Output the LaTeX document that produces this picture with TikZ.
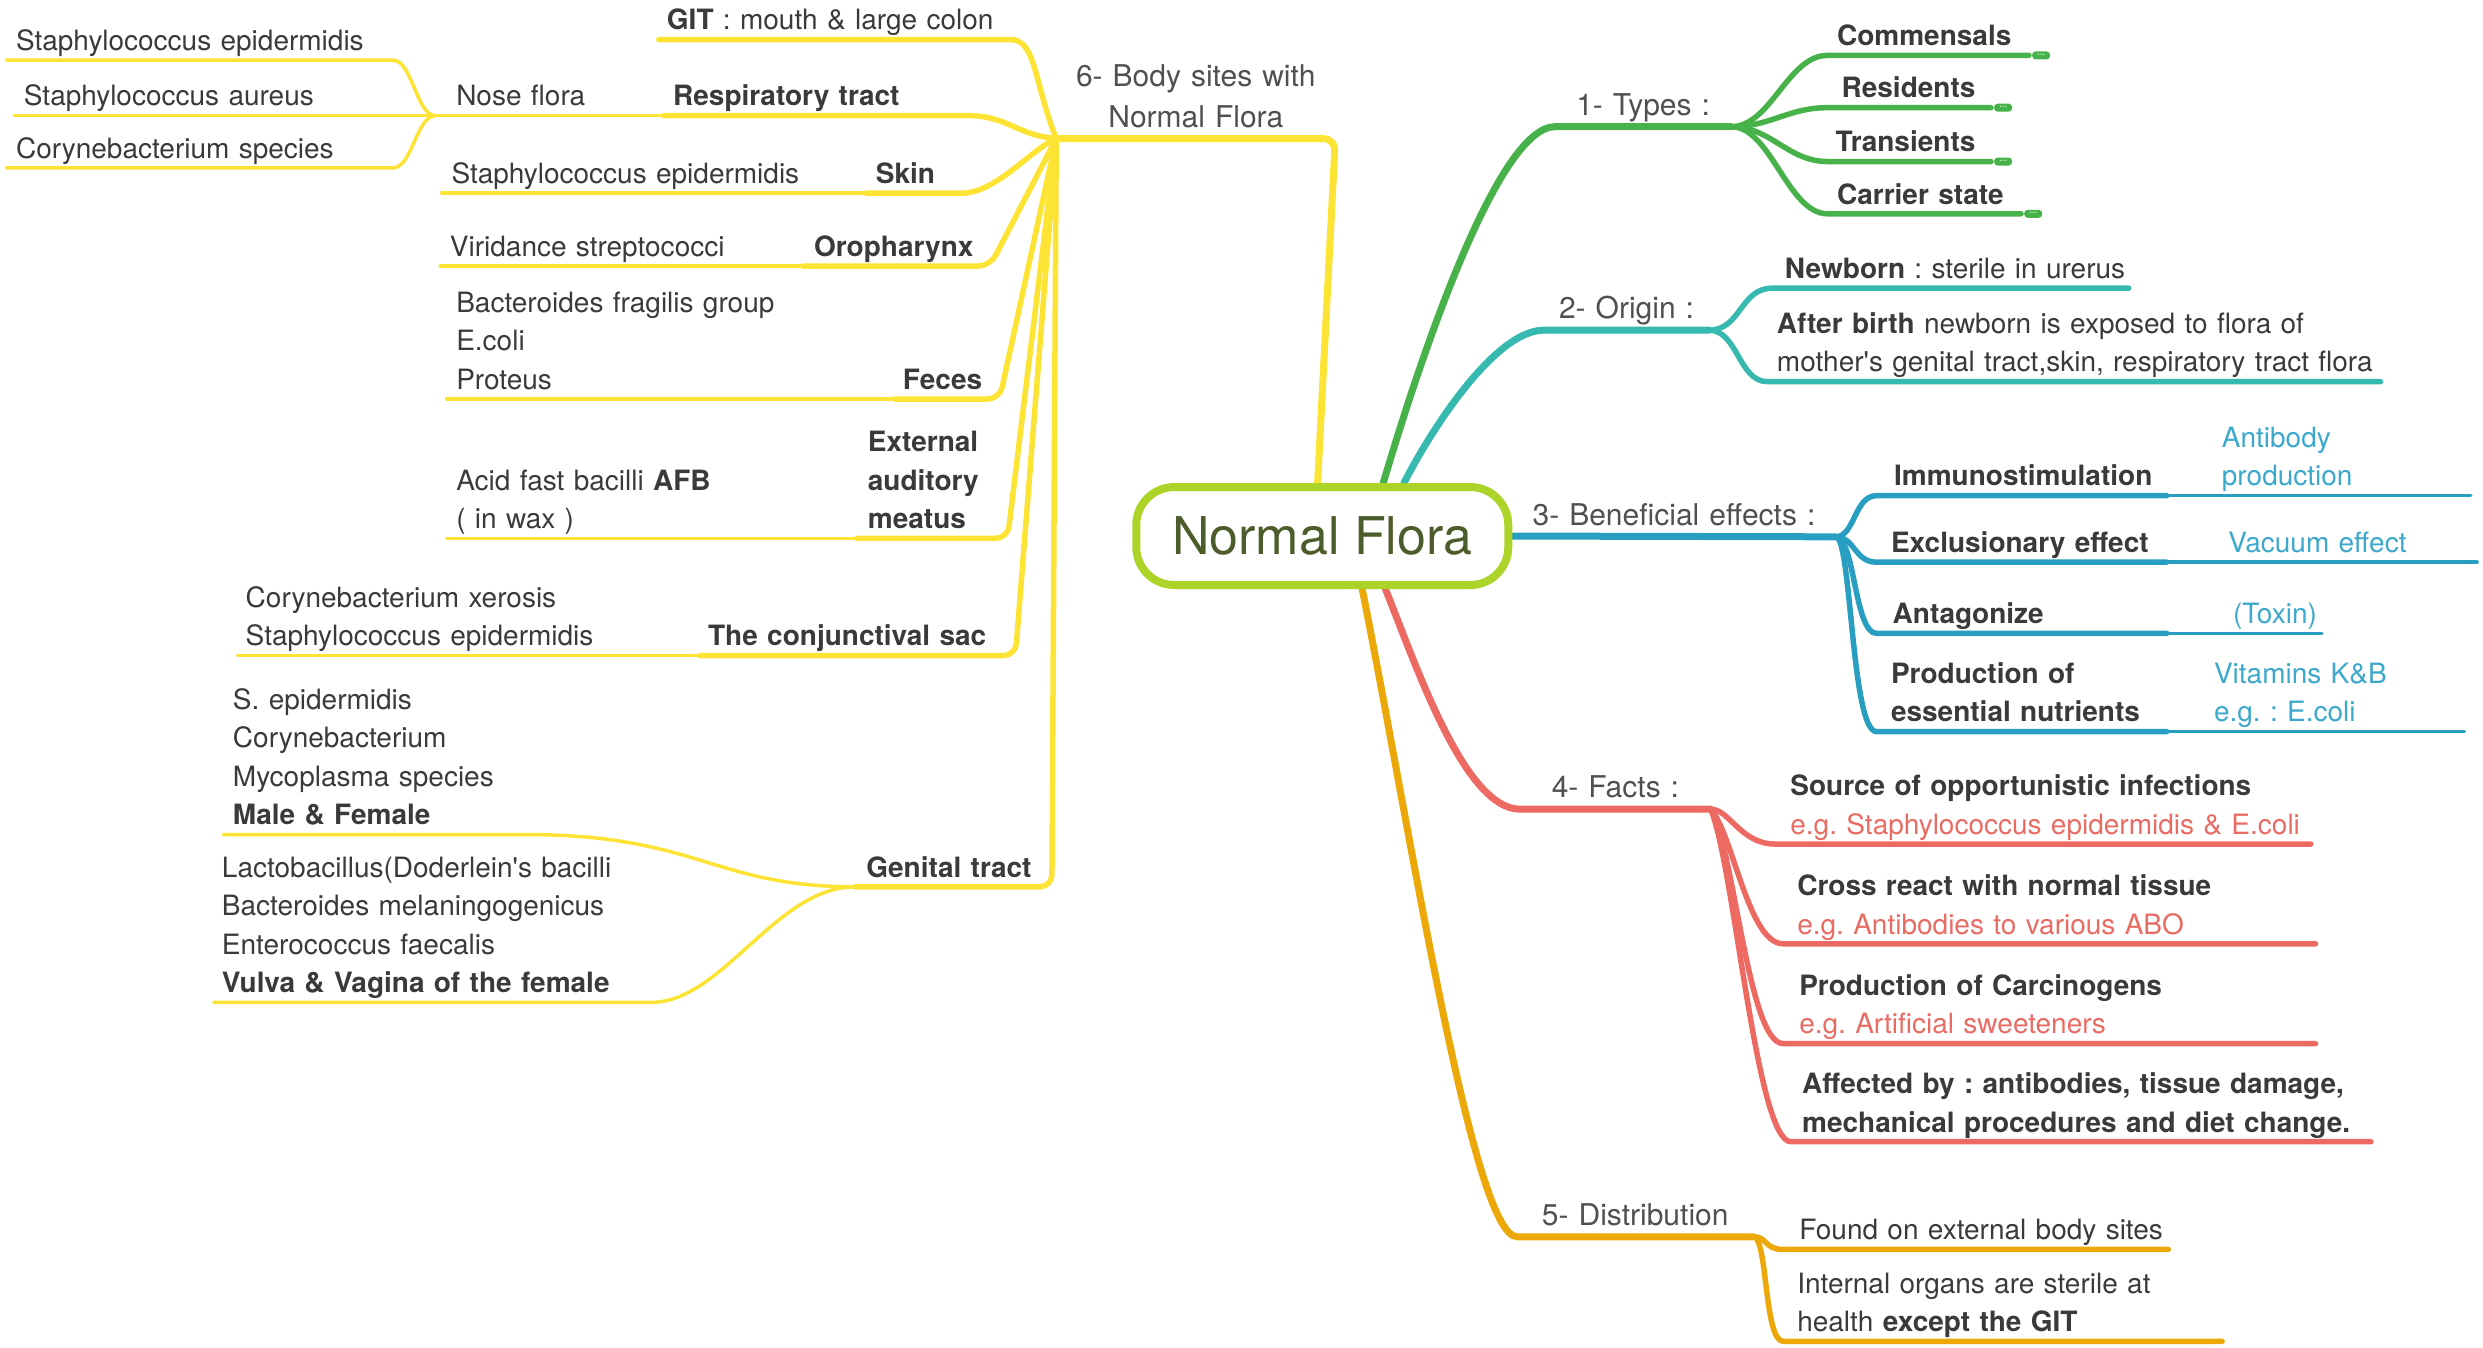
\documentclass[tikz,border=0pt]{standalone}
\usepackage{fontspec}
\setmainfont{TeX Gyre Heros}
\usetikzlibrary{positioning,backgrounds}
\definecolor{ylw}{RGB}{253,227,52}
\definecolor{grn}{RGB}{72,178,74}
\definecolor{tea}{RGB}{54,186,176}
\definecolor{blu}{RGB}{40,158,192}
\definecolor{sal}{RGB}{236,106,98}
\definecolor{org}{RGB}{236,168,8}
\definecolor{rootc}{RGB}{172,212,40}
\definecolor{roottx}{RGB}{76,92,42}
\definecolor{txt}{RGB}{58,58,58}
\definecolor{lbl}{RGB}{80,80,80}
\definecolor{blutx}{RGB}{60,168,204}
\definecolor{saltx}{RGB}{233,108,100}
\begin{document}
\begin{tikzpicture}[x=1.5835pt, y=-1.5835pt]
\tikzstyle{root} = [draw=rootc, line width=8pt, fill=white, rounded corners=38pt, minimum width=372pt, minimum height=98pt, text=roottx, font=\fontsize{52}{60}\selectfont];
\tikzstyle{branch} = [font=\fontsize{30}{41}\selectfont, text=lbl, inner sep=0pt, anchor=south west, execute at begin node={\centering\frenchspacing}, execute at end node={\rule[-11pt]{0pt}{11pt}}];
\tikzstyle{leaf} = [font=\fontsize{28}{38.5}\selectfont, text=txt, inner sep=0pt, anchor=south west, execute at begin node={\raggedright\frenchspacing\hyphenpenalty=10000 \leftskip=8pt}, execute at end node={\rule[-9.5pt]{0pt}{9.5pt}}];
\tikzstyle{morebox} = [fill=grn, rounded corners=3.5pt, minimum width=18pt, minimum height=8pt, inner sep=0pt, text=white, font=\fontsize{5}{5}\selectfont];
\tikzstyle{main} = [line width=7pt, line cap=round];
\tikzstyle{sub} = [line width=5.5pt, line cap=round];
\tikzstyle{subsub} = [line width=3.5pt, line cap=round];
\tikzset{lw/.style={text width=\fpeval{1.5835*#1}pt}, lpad/.style={execute at begin node={\leftskip=#1pt}}}
\useasboundingbox (0,0) rectangle (1568,851);

\node [root] (root) at (835,338.5) {Normal Flora};

\node [branch, lw=176] (b6) at (667,87.5) {6- Body sites with\\Normal Flora};
\node [branch, lw=111] (b1) at (982,80) {1- Types :};
\node [branch, lw=104] (b2) at (975,208.5) {2- Origin :};
\node [branch, lw=204] (b3) at (955,339) {3- Beneficial effects :};
\node [branch, lw=120] (b4) at (960,511) {4- Facts :};
\node [branch, lw=149] (b5) at (958,781) {5- Distribution};

\node [leaf, lw=222, lpad=8] (git) at (416,25) {\textbf{GIT} : mouth \& large colon};
\node [leaf, lw=192, lpad=9.5] (rsp) at (419,73) {\textbf{Respiratory tract}};
\node [leaf, lw=144, lpad=20.6] (nf) at (275,73) {Nose flora};
\node [leaf, lw=244, lpad=9.5] (n1) at (4,38) {Staphylococcus epidermidis};
\node [leaf, lw=266, lpad=9.5] (n2) at (9,73) {Staphylococcus aureus};
\node [leaf, lw=244, lpad=9.5] (n3) at (4,106) {Corynebacterium species};
\node [leaf, lw=60, lpad=9.5] (skn) at (547,122) {\textbf{Skin}};
\node [leaf, lw=268, lpad=9.5] (sk1) at (279,122) {Staphylococcus epidermidis};
\node [leaf, lw=118, lpad=11] (oro) at (507,168) {\textbf{Oropharynx}};
\node [leaf, lw=229, lpad=9.5] (or1) at (278,168) {Viridance streptococci};
\node [leaf, lw=66, lpad=8] (fec) at (565,252) {\textbf{Feces}};
\node [leaf, lw=283, lpad=9.5] (fe1) at (282,252) {Bacteroides fragilis group\\E.coli\\Proteus};
\node [leaf, lw=95, lpad=11] (eam) at (541,340) {\textbf{External}\\\textbf{auditory}\\\textbf{meatus}};
\node [leaf, lw=259, lpad=9.5] (ea1) at (282,340) {Acid fast bacilli \textbf{AFB}\\( in wax )};
\node [leaf, lw=199, lpad=8] (cnj) at (442,414) {\textbf{The conjunctival sac}};
\node [leaf, lw=292, lpad=8] (cj1) at (150,414) {Corynebacterium xerosis\\Staphylococcus epidermidis};
\node [leaf, lw=124, lpad=11] (gen) at (540,560) {\textbf{Genital tract}};
\node [leaf, lw=190, lpad=9.5] (mf) at (141,527) {S. epidermidis\\Corynebacterium\\Mycoplasma species\\\textbf{Male \& Female}};
\node [leaf, lw=276, lpad=8] (vv) at (135,633) {Lactobacillus(Doderlein\textquotesingle s bacilli\\Bacteroides melaningogenicus\\Enterococcus faecalis\\\textbf{Vulva \& Vagina of the female}};

\node [leaf, lw=127, lpad=9.5] (com) at (1154,35) {\textbf{Commensals}};
\node [leaf, lw=103, lpad=14] (res) at (1154,68) {\textbf{Residents}};
\node [leaf, lw=103, lpad=8] (tra) at (1154,102) {\textbf{Transients}};
\node [leaf, lw=122, lpad=9.5] (car) at (1154,135) {\textbf{Carrier state}};
\node [morebox, right=3pt of com.south east] (m1) {\textbullet\,\textbullet\,\textbullet};
\node [morebox, right=3pt of res.south east] (m2) {\textbullet\,\textbullet\,\textbullet};
\node [morebox, right=3pt of tra.south east] (m3) {\textbullet\,\textbullet\,\textbullet};
\node [morebox, right=3pt of car.south east] (m4) {\textbullet\,\textbullet\,\textbullet};

\node [leaf, lw=225, lpad=12.7] (nb) at (1119,182) {\textbf{Newborn} : sterile in urerus};
\node [leaf, lw=387, lpad=9.5] (ab) at (1116,241) {\textbf{After birth} newborn is exposed to flora of\\mother\textquotesingle s genital tract,skin, respiratory tract flora};

\node [leaf, lw=183, lpad=17.4] (imm) at (1185,313) {\textbf{Immunostimulation}};
\node [leaf, lw=192, lpad=55.4, text=blutx] (imm2) at (1368,313) {Antibody\\production};
\node [leaf, lw=183, lpad=14.3] (exc) at (1185,355) {\textbf{Exclusionary effect}};
\node [leaf, lw=196, lpad=61.8, text=blutx] (exc2) at (1368,355) {Vacuum effect};
\node [leaf, lw=183, lpad=16] (ant) at (1185,400) {\textbf{Antagonize}};
\node [leaf, lw=98, lpad=66.5, text=blutx] (ant2) at (1368,400) {(Toxin)};
\node [leaf, lw=183, lpad=14.3] (pro) at (1185,462) {\textbf{Production of}\\\textbf{essential nutrients}};
\node [leaf, lw=188, lpad=47.5, text=blutx] (pro2) at (1368,462) {Vitamins K\&B\\e.g. : E.coli};

\node [leaf, lw=338, lpad=15] (fa1) at (1121,533) {\textbf{Source of opportunistic infections}\\\textcolor{saltx}{e.g. Staphylococcus epidermidis \& E.coli}};
\node [leaf, lw=336, lpad=14] (fa2) at (1126,596) {\textbf{Cross react with normal tissue}\\\textcolor{saltx}{e.g. Antibodies to various ABO}};
\node [leaf, lw=336, lpad=16] (fa3) at (1126,659) {\textbf{Production of Carcinogens}\\\textcolor{saltx}{e.g. Artificial sweeteners}};
\node [leaf, lw=366, lpad=11] (fa4) at (1131,721) {\textbf{Affected by : antibodies, tissue damage,}\\\textbf{mechanical procedures and diet change.}};

\node [leaf, lw=243, lpad=16] (di1) at (1126,789) {Found on external body sites};
\node [leaf, lw=277, lpad=14] (di2) at (1126,847) {Internal organs are sterile at\\health \textbf{except the GIT}};

\begin{scope}[on background layer]
\draw [main, ylw, rounded corners=12pt] (root.95) -- (b6.south east) -- (b6.south west);
\draw [main, grn] (root.41) .. controls +(26,-88) and +(-35,0) .. (b1.south west) -- (b1.south east);
\draw [main, tea] (root.33) .. controls +(19,-37) and +(-30,0) .. (b2.south west) -- (b2.south east);
\draw [main, blu] (root.east) -- (b3.south east);
\draw [main, sal] (root.-40) .. controls +(20,50) and +(-35,0) .. (b4.south west) -- (b4.south east);
\draw [main, org] (root.-53) .. controls +(30,150) and +(-28,0) .. (b5.south west) -- (b5.south east);

\draw [sub, ylw] (b6.south west) .. controls +(-14,-35) and +(16,0) .. (git.south east) -- (git.south west);
\draw [sub, ylw] (b6.south west) .. controls +(-25,-2) and +(25,0) .. (rsp.south east) -- (rsp.south west);
\draw [subsub, ylw] (rsp.south west) -- (nf.south west);
\draw [subsub, ylw] (nf.south west) .. controls +(-12,0) and +(12,0) .. (n1.south east) -- (n1.south west);
\draw [subsub, ylw] (nf.south west) -- (n2.south west);
\draw [subsub, ylw] (nf.south west) .. controls +(-12,0) and +(12,0) .. (n3.south east) -- (n3.south west);
\draw [sub, ylw] (b6.south west) .. controls +(-15,6) and +(22,0) .. (skn.south east) -- (skn.south west);
\draw [subsub, ylw] (skn.south west) -- (sk1.south west);
\draw [sub, ylw, rounded corners=12pt] (b6.south west) -- (oro.south east) -- (oro.south west);
\draw [subsub, ylw] (oro.south west) -- (or1.south west);
\draw [sub, ylw, rounded corners=12pt] (b6.south west) -- (fec.south east) -- (fec.south west);
\draw [subsub, ylw] (fec.south west) -- (fe1.south west);
\draw [sub, ylw, rounded corners=12pt] (b6.south west) -- (eam.south east) -- (eam.south west);
\draw [subsub, ylw] (eam.south west) -- (ea1.south west);
\draw [sub, ylw, rounded corners=12pt] (b6.south west) -- (cnj.south east) -- (cnj.south west);
\draw [subsub, ylw] (cnj.south west) -- (cj1.south west);
\draw [sub, ylw, rounded corners=12pt] (b6.south west) -- (gen.south east) -- (gen.south west);
\draw [subsub, ylw] (gen.south west) .. controls +(-90,0) and +(110,0) .. (mf.south east) -- (mf.south west);
\draw [subsub, ylw] (gen.south west) .. controls +(-50,0) and +(45,0) .. (vv.south east) -- (vv.south west);

\draw [sub, grn] (b1.south east) .. controls +(25,0) and +(-25,0) .. (com.south west) -- (com.south east);
\draw [sub, grn] (b1.south east) .. controls +(25,0) and +(-25,0) .. (res.south west) -- (res.south east);
\draw [sub, grn] (b1.south east) .. controls +(25,0) and +(-25,0) .. (tra.south west) -- (tra.south east);
\draw [sub, grn] (b1.south east) .. controls +(25,0) and +(-25,0) .. (car.south west) -- (car.south east);

\draw [sub, tea] (b2.south east) .. controls +(20,0) and +(-20,0) .. (nb.south west) -- (nb.south east);
\draw [sub, tea] (b2.south east) .. controls +(18,0) and +(-18,0) .. (ab.south west) -- (ab.south east);

\draw [sub, blu] (b3.south east) .. controls +(12,0) and +(-14,0) .. (imm.south west) -- (imm.south east);
\draw [subsub, blu] (imm.south east) -- (imm2.south east);
\draw [sub, blu] (b3.south east) .. controls +(12,0) and +(-14,0) .. (exc.south west) -- (exc.south east);
\draw [subsub, blu] (exc.south east) -- (exc2.south east);
\draw [sub, blu] (b3.south east) .. controls +(12,0) and +(-14,0) .. (ant.south west) -- (ant.south east);
\draw [subsub, blu] (ant.south east) -- (ant2.south east);
\draw [sub, blu] (b3.south east) .. controls +(10,0) and +(-16,0) .. (pro.south west) -- (pro.south east);
\draw [subsub, blu] (pro.south east) -- (pro2.south east);

\draw [sub, sal] (b4.south east) .. controls +(12,0) and +(-22,0) .. (fa1.south west) -- (fa1.south east);
\draw [sub, sal] (b4.south east) .. controls +(14,15) and +(-22,0) .. (fa2.south west) -- (fa2.south east);
\draw [sub, sal] (b4.south east) .. controls +(15,25) and +(-22,0) .. (fa3.south west) -- (fa3.south east);
\draw [sub, sal] (b4.south east) .. controls +(15,35) and +(-22,0) .. (fa4.south west) -- (fa4.south east);

\draw [sub, org] (b5.south east) .. controls +(9,0) and +(-12,0) .. (di1.south west) -- (di1.south east);
\draw [sub, org] (b5.south east) .. controls +(9,0) and +(-12,0) .. (di2.south west) -- (di2.south east);
\end{scope}
\end{tikzpicture}
\end{document}
